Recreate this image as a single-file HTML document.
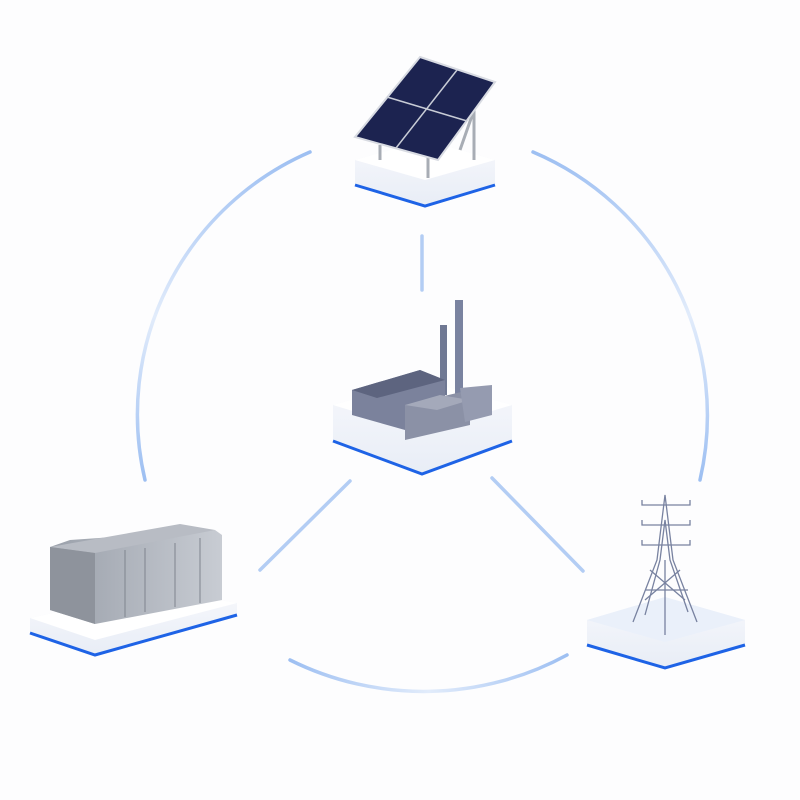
<!DOCTYPE html>
<html><head><style>html,body{margin:0;padding:0;background:#fdfdfe;}svg{display:block}</style></head>
<body>
<svg width="800" height="800" viewBox="0 0 800 800" xmlns="http://www.w3.org/2000/svg">
<defs>
<linearGradient id="g1" x1="0" y1="0" x2="0" y2="1"><stop offset="0" stop-color="#9dbff2"/><stop offset="0.5" stop-color="#e2ecfb"/><stop offset="1" stop-color="#9dbff2"/></linearGradient>
<linearGradient id="gh" x1="0" y1="0" x2="1" y2="0"><stop offset="0" stop-color="#9dbff2"/><stop offset="0.5" stop-color="#e2ecfb"/><stop offset="1" stop-color="#9dbff2"/></linearGradient>
<linearGradient id="side" x1="0" y1="0" x2="0" y2="1"><stop offset="0" stop-color="#f7f8fc"/><stop offset="1" stop-color="#e8edf6"/></linearGradient>
<linearGradient id="grey" x1="0" y1="0" x2="1" y2="0"><stop offset="0" stop-color="#9aa0aa"/><stop offset="1" stop-color="#c8ccd3"/></linearGradient>
</defs>
<g fill="none" stroke-linecap="round" stroke-width="3.5">
<path d="M310,152 A286,286 0 0 0 145,480" stroke="url(#g1)"/>
<path d="M533,152 A286,286 0 0 1 700,480" stroke="url(#g1)"/>
<path d="M290,660 A300,300 0 0 0 567,655" stroke="url(#gh)"/>
<line x1="422" y1="236" x2="422" y2="290" stroke="#b3cdf4"/>
<line x1="350" y1="481" x2="260" y2="570" stroke="#b3cdf4"/>
<line x1="492" y1="478" x2="583" y2="571" stroke="#b3cdf4"/>
</g>
<!-- solar platform -->
<polygon points="355,160 425,140 495,160 495,185 425,206 355,185" fill="url(#side)"/>
<polygon points="355,160 425,140 495,160 425,180" fill="#ffffff"/>
<polyline points="355,185 425,206 495,185" fill="none" stroke="#1e63e6" stroke-width="3"/>
<g stroke="#a8adb5" stroke-width="3"><line x1="380" y1="145" x2="380" y2="160"/><line x1="428" y1="148" x2="428" y2="178"/><line x1="474" y1="110" x2="474" y2="160"/><line x1="474" y1="110" x2="460" y2="150"/></g>
<polygon points="420,57 495,82 438,160 355,137" fill="#1c2350" stroke="#d8dbe2" stroke-width="2"/>
<line x1="457" y1="70" x2="396" y2="148" stroke="#c8ccd6" stroke-width="1.5"/>
<line x1="387" y1="97" x2="467" y2="121" stroke="#c8ccd6" stroke-width="1.5"/>
<!-- factory platform -->
<polygon points="333,405 422,380 512,405 512,441 422,474 333,441" fill="url(#side)"/>
<polygon points="333,405 422,380 512,405 422,432" fill="#ffffff"/>
<polyline points="333,441 422,474 512,441" fill="none" stroke="#1e63e6" stroke-width="3"/>
<rect x="440" y="325" width="7" height="70" fill="#6f7893"/>
<rect x="455" y="300" width="8" height="95" fill="#7a83a0"/>
<polygon points="352,390 420,370 445,380 445,420 405,430 352,415" fill="#7b829c"/>
<polygon points="352,390 420,370 445,380 377,398" fill="#5d647f"/>
<polygon points="405,405 470,390 470,425 405,440" fill="#8b91a6"/>
<polygon points="405,405 440,395 470,400 437,410" fill="#a4a9ba"/>
<polygon points="460,388 492,385 492,415 465,422" fill="#959bb0"/>
<!-- container platform -->
<polygon points="30,618 160,590 237,603 237,615 95,655 30,633" fill="url(#side)"/>
<polygon points="30,618 160,590 237,603 95,640" fill="#ffffff"/>
<polyline points="30,633 95,655 237,615" fill="none" stroke="#1e63e6" stroke-width="3"/>
<polygon points="50,547 70,540 215,530 222,535 222,600 95,624 50,610" fill="url(#grey)"/>
<polygon points="50,547 180,524 215,530 95,553" fill="#b8bcc4"/>
<polygon points="50,547 95,553 95,624 50,610" fill="#8e939c"/>
<g stroke="#7f848e" stroke-width="1"><line x1="125" y1="550" x2="125" y2="617"/><line x1="145" y1="548" x2="145" y2="612"/><line x1="175" y1="543" x2="175" y2="607"/><line x1="200" y1="538" x2="200" y2="603"/></g>
<!-- tower platform -->
<polygon points="587,620 665,597 745,620 745,645 665,668 587,645" fill="url(#side)"/>
<polygon points="587,620 665,597 745,620 665,642" fill="#eaf0fa"/>
<polyline points="587,645 665,668 745,645" fill="none" stroke="#1e63e6" stroke-width="3"/>
<g stroke="#7882a0" stroke-width="1.3" fill="none">
<polyline points="633,622 657,560 665,495 673,560 697,622"/>
<polyline points="645,615 660,560 665,520 670,560 688,612"/>
<line x1="665" y1="635" x2="665" y2="560"/>
<line x1="645" y1="590" x2="688" y2="590"/>
<polyline points="642,500 642,505 690,505 690,500"/><polyline points="642,520 642,525 690,525 690,520"/><polyline points="642,540 642,545 690,545 690,540"/>
<line x1="645" y1="600" x2="680" y2="570"/><line x1="685" y1="600" x2="650" y2="570"/>
</g>
</svg>
</body></html>
